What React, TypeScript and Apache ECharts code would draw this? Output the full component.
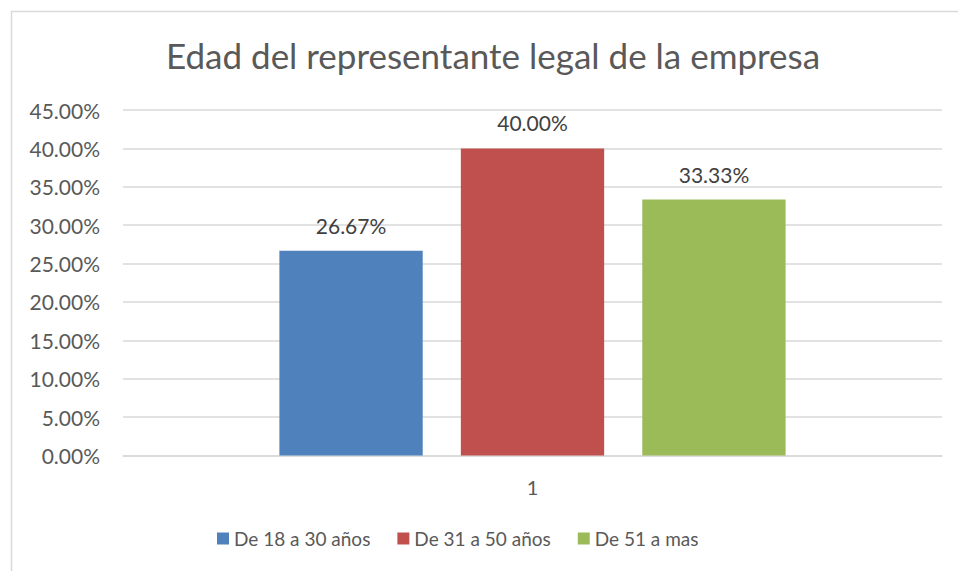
import React, { useEffect, useRef } from "react";
import * as echarts from "echarts";

const title = "Edad del representante legal de la empresa";
const categories = ["1"];
const seriesNames = ["De 18 a 30 años", "De 31 a 50 años", "De 51 a mas"];
const seriesValues = [[26.67], [40.0], [33.33]];
const seriesColors = ["#4F81BD", "#C0504D", "#9BBB59"];
const yMin = 0;
const yMax = 45;
const yInterval = 5;

const FONT = "Lato, 'Open Sans', sans-serif";
const TEXT = "#595959";

export default function App() {
  const ref = useRef<HTMLDivElement>(null);
  useEffect(() => {
    if (!ref.current) return;
    const chart = echarts.init(ref.current, null, { renderer: "svg" });
    chart.setOption({
      animation: false,
      backgroundColor: "#ffffff",
      textStyle: { fontFamily: FONT },
      title: {
        text: title,
        left: 161,
        top: 32,
        textStyle: { fontFamily: FONT, fontSize: 35, fontWeight: "normal", color: TEXT },
      },
      graphic: [
        {
          type: "rect",
          shape: { x: 11.5, y: 11.5, width: 2000, height: 2000 },
          style: { fill: "none", stroke: "#d9d9d9", lineWidth: 1.5 },
          silent: true,
        },
      ],
      legend: {
        bottom: 18,
        left: 212,
        itemWidth: 12,
        itemHeight: 12,
        itemGap: 27,
        icon: "rect",
        textStyle: { fontFamily: FONT, fontSize: 19, color: TEXT },
        data: seriesNames,
      },
      grid: { left: 123, right: 16, top: 110, bottom: 115.5, containLabel: false },
      xAxis: {
        type: "category",
        data: categories,
        axisLine: { lineStyle: { color: "#d9d9d9", width: 1.5 } },
        axisTick: { show: false },
        axisLabel: { fontFamily: FONT, fontSize: 20, color: TEXT, margin: 21 },
      },
      yAxis: {
        type: "value",
        min: yMin,
        max: yMax,
        interval: yInterval,
        axisLine: { show: false },
        axisTick: { show: false },
        splitLine: { lineStyle: { color: "#d9d9d9", width: 1.5 } },
        axisLabel: {
          fontFamily: FONT,
          fontSize: 21,
          color: TEXT,
          margin: 23,
          formatter: (v: number) => v.toFixed(2) + "%",
        },
      },
      series: seriesNames.map((name, i) => ({
        name,
        type: "bar",
        data: seriesValues[i],
        barWidth: "17.5%",
        barGap: "26.6%",
        itemStyle: { color: seriesColors[i] },
        label: {
          show: true,
          position: "top",
          distance: 15,
          fontFamily: FONT,
          fontSize: 21,
          color: "#404040",
          formatter: (p: any) => Number(p.value).toFixed(2) + "%",
        },
      })),
    });
    return () => chart.dispose();
  }, []);
  return (
    <div
      ref={ref}
      style={{ position: "absolute", left: 0, top: 0, width: 958, height: 571 }}
    />
  );
}
